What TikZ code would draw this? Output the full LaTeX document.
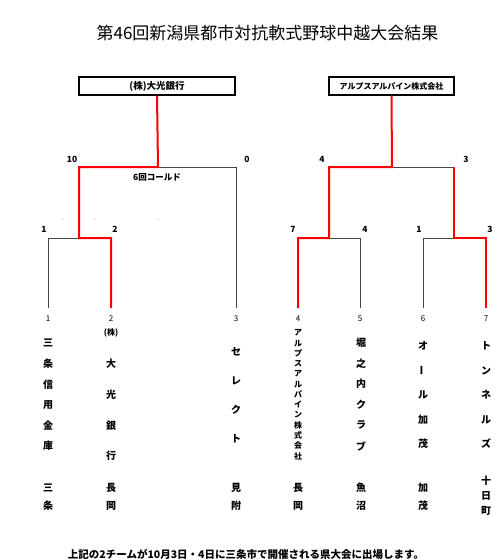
\documentclass[tikz,border=0pt]{standalone}
\usepackage{fontspec}
\setmainfont{Noto Sans CJK JP}
\usetikzlibrary{positioning}
\definecolor{winred}{HTML}{FF0000}
\definecolor{losegray}{HTML}{454545}

\begin{document}
\begin{tikzpicture}[
    x=1pt, y=-1pt,
    every node/.style={inner sep=0pt, font=\bfseries},
    champ/.style={
        rectangle, draw=black, line width=1.4pt, fill=white,
        minimum width=#1, minimum height=18pt,
        font=\bfseries\fontsize{9.5}{10}\selectfont,
    },
    score/.style={font=\bfseries\fontsize{8.5}{10}\selectfont},
    seed/.style={font=\fontsize{8}{9}\selectfont},
    nm/.style={font=\bfseries\fontsize{10}{11}\selectfont},
    nmsmall/.style={font=\bfseries\fontsize{8}{9}\selectfont},
    lost/.style={draw=losegray, line width=0.9pt},
    won/.style={draw=winred, line width=2pt},
    speck/.style={circle, fill=losegray!50, minimum size=1.2pt},
]
\useasboundingbox (0,0) rectangle (500,560);

% ---------------------------------------------------------------- title
\node[font=\fontsize{17}{20}\selectfont] (title) at (267.5,33)
    {第46回新潟県都市対抗軟式野球中越大会結果};

% ---------------------------------------------------------------- winners
\node[champ=156pt] (win1) at (157,86) {(株)大光銀行};
\node[champ=125pt, font=\bfseries\fontsize{8}{9}\selectfont] (win2) at (391.5,86)
    {アルプスアルパイン株式会社};

% ---------------------------------------------------------------- junctions
\coordinate (top1) at (158,167);
\coordinate (top2) at (392,167);
\coordinate (l1) at (79,167);   \coordinate (r1) at (236,167);
\coordinate (l2) at (329,167);  \coordinate (r2) at (454,167);
\coordinate (m12) at (79,238);  \coordinate (m45) at (329,238);
\coordinate (m67) at (454,238);
\foreach \x [count=\i] in {48,111,236,298,360,423,486}{
    \coordinate (h\i) at (\x,238);
    \coordinate (f\i) at (\x,308);
    \node[seed] (t\i) at (\x,319) {\i};
}

% ---------------------------------------------------------------- lines
\draw[lost] (f1) -- (h1) -- (h2);
\draw[lost] (f3) -- (r1) -- (top1);
\draw[lost] (h5) -- (m45);
\draw[lost] (f5) -- (h5);
\draw[lost] (f6) -- (h6) -- (m67);
\draw[lost] (top2) -- (r2);

\draw[won] (win1.south) -- (top1) -- (l1) -- (m12) -- (h2) -- (f2);
\draw[won] (win2.south) -- (top2) -- (l2) -- (m45) -- (h4) -- (f4);
\draw[won] (r2) -- (m67) -- (h7) -- (f7);

% ---------------------------------------------------------------- scores
\node[score] (s10) at (72,159) {10};
\node[score] (s0) at (247,159) {0};
\node[score] (sa1) at (44,229) {1};
\node[score] (sa2) at (115,229) {2};
\node[score] (sb4) at (322,159) {4};
\node[score] (sb3) at (466,159) {3};
\node[score] (sc7) at (293,229) {7};
\node[score] (sc4) at (365,229) {4};
\node[score] (sd1) at (419,229) {1};
\node[score] (sd3) at (490,229) {3};
\node[score] (cold) at (157,177) {6回コールド};

\node[speck] (p1) at (63,219) {};
\node[speck] (p2) at (95,219) {};
\node[speck] (p3) at (158,219) {};

% ---------------------------------------------------------------- team names
\foreach \c [count=\i] in {三,条,信,用,金,庫}
    \node[nm] (na\i) at (48,{343+20.6*(\i-1)}) {\c};
\node[nmsmall] (nb0) at (111,333) {(株)};
\foreach \c [count=\i] in {大,光,銀,行}
    \node[nm] (nb\i) at (111,{364+30.7*(\i-1)}) {\c};
\foreach \c [count=\i] in {セ,レ,ク,ト}
    \node[nm] (nc\i) at (236,{352+29*(\i-1)}) {\c};
\foreach \c [count=\i] in {ア,ル,プ,ス,ア,ル,パ,イ,ン,株,式,会,社}
    \node[nmsmall] (nd\i) at (298,{333+10.25*(\i-1)}) {\c};
\foreach \c [count=\i] in {堀,之,内,ク,ラ,ブ}
    \node[nm] (ne\i) at (361,{343+20.6*(\i-1)}) {\c};
\foreach \c [count=\i] in {オ,{\rotatebox{90}{ー}},ル,加,茂}
    \node[nm] (nf\i) at (423,{346+24.5*(\i-1)}) {\c};
\foreach \c [count=\i] in {ト,ン,ネ,ル,ズ}
    \node[nm] (ng\i) at (486,{346+24.5*(\i-1)}) {\c};

% ---------------------------------------------------------------- towns
\foreach \x/\a/\b [count=\i] in {48/三/条,111/長/岡,236/見/附,298/長/岡,361/魚/沼,423/加/茂}{
    \node[nm] (ta\i) at (\x,488) {\a};
    \node[nm] (tb\i) at (\x,506) {\b};
}
\foreach \c [count=\i] in {十,日,町}
    \node[nm] (tg\i) at (486,{481+15*(\i-1)}) {\c};

% ---------------------------------------------------------------- note
\node[font=\bfseries\fontsize{10.5}{12}\selectfont] (note) at (246,554)
    {上記の2チームが10月3日・4日に三条市で開催される県大会に出場します。};

\end{tikzpicture}
\end{document}
